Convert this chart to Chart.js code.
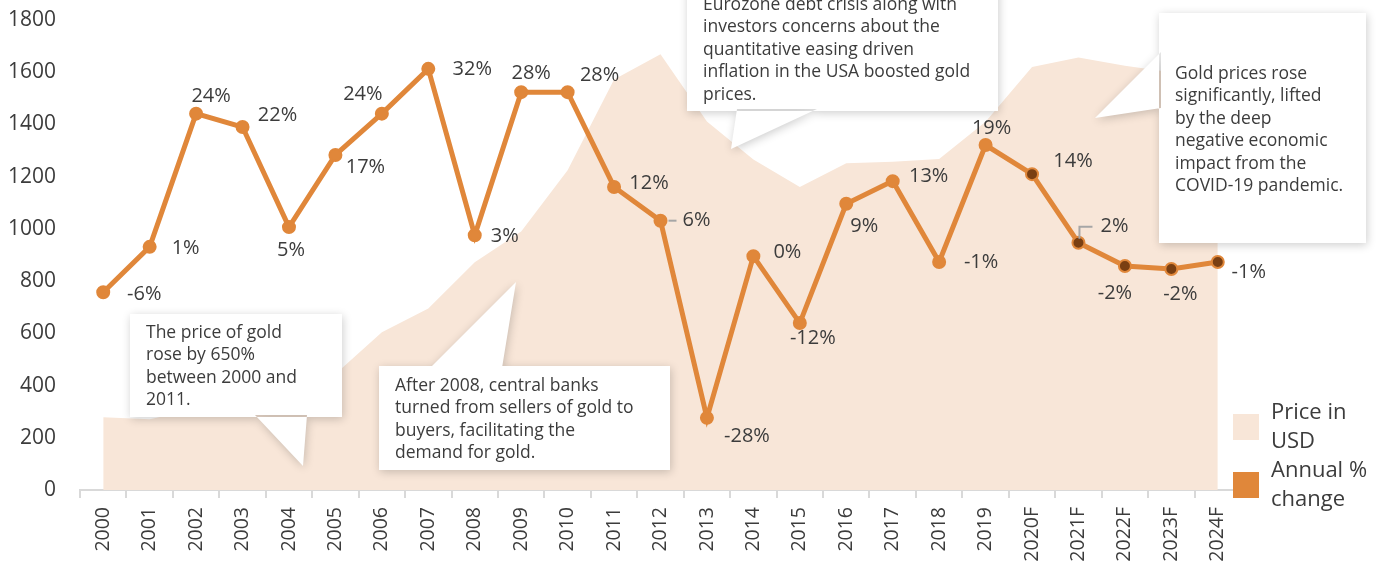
<!DOCTYPE html>
<html>
<head>
<meta charset="utf-8">
<script src="https://cdn.jsdelivr.net/npm/chart.js@4.4.1/dist/chart.umd.min.js"></script>
<style>
  body { margin: 0; background: #fff; }
  #wrap { width: 1382px; height: 570px; }
</style>
</head>
<body>
<div id="wrap"><canvas id="gold-chart" width="1382" height="570"></canvas></div>
<script>
// data
const years = ["2000", "2001", "2002", "2003", "2004", "2005", "2006", "2007", "2008", "2009",
  "2010", "2011", "2012", "2013", "2014", "2015", "2016", "2017", "2018", "2019",
  "2020F", "2021F", "2022F", "2023F", "2024F"];
const priceUsd = [279, 271, 310, 363, 409, 444, 604, 695, 872, 990,
  1225, 1572, 1669, 1411, 1266, 1160, 1251, 1257, 1268, 1410,
  1620, 1656, 1625, 1600, 1580];
const annualChange = [-6.4, 1.4, 24.3, 22.0, 4.8, 17.2, 24.3, 32.0, 3.4, 28.0,
  28.0, 11.7, 5.9, -28.0, -0.2, -11.7, 8.8, 12.7, -1.2, 18.9,
  13.9, 2.1, -1.9, -2.4, -1.2];
const yTicks = { min: 0, max: 1800, step: 200 };

const notes = [
  ["The price of gold", "rose by 650%", "between 2000 and", "2011."],
  ["After 2008, central banks", "turned from sellers of gold to", "buyers, facilitating the", "demand for gold."],
  ["Eurozone debt crisis along with", "investors concerns about the", "quantitative easing driven", "inflation in the USA boosted gold", "prices."],
  ["Gold prices rose", "significantly, lifted", "by the deep", "negative economic", "impact from the", "COVID-19 pandemic."]
];

const ORANGE = "#E0873A";
const BROWN = "#7A3F12";
const PEACH = "#F8E6D8";
const TEXT = "#3C3C3C";
const FONT = "'Open Sans'";

// label placement relative to each point [dx, dy]
const labelOffsets = [[41, 2], [36, 1], [15, -17], [35, -12], [2, 23], [30, 12], [-19, -19], [44, 0], [30, 1], [10, -19],
  [32, -17], [35, -4], [36, 0], [40, 18], [34, -4], [13, 15], [18, 22], [36, -5], [42, 0], [6, -17],
  [41, -13], [36, -16], [-10, 27], [9, 25], [31, 10]];

// callout boxes: [x, y, w, h], pointer triangle, y of first text line
const calloutLayout = [
  { box: [130, 314, 212, 103], tip: [[255, 415], [303, 466], [307, 415]], top: 333 },
  { box: [379, 366, 291, 104], tip: [[430, 368], [516, 282], [502, 368]], top: 386 },
  { box: [687, -40, 311, 151], tip: [[737, 109], [731, 149], [817, 109]], top: 5 },
  { box: [1159, 13, 207, 230], tip: [[1161, 52], [1095, 118], [1161, 108]], top: 74 }
];

const calloutPlugin = {
  id: "callouts",
  afterDatasetDraw(chart, args) {
    if (args.index !== 1) return;
    const ctx = chart.ctx;
    ctx.save();
    calloutLayout.forEach((c, n) => {
      const [x, y, w, h] = c.box;
      ctx.beginPath();
      ctx.rect(x, y, w, h);
      ctx.moveTo(c.tip[0][0], c.tip[0][1]);
      ctx.lineTo(c.tip[1][0], c.tip[1][1]);
      ctx.lineTo(c.tip[2][0], c.tip[2][1]);
      ctx.closePath();
      ctx.shadowColor = "rgba(0,0,0,0.2)";
      ctx.shadowBlur = 10;
      ctx.shadowOffsetX = 1;
      ctx.shadowOffsetY = 2;
      ctx.fillStyle = "#fff";
      ctx.fill();
      ctx.shadowColor = "transparent";
      ctx.fillStyle = TEXT;
      ctx.font = "17.5px " + FONT;
      ctx.textBaseline = "middle";
      ctx.textAlign = "left";
      notes[n].forEach((t, i) => ctx.fillText(t, x + 16, c.top + i * 22.5));
    });
    ctx.restore();
  }
};

const pctLabelPlugin = {
  id: "pctLabels",
  afterDatasetsDraw(chart) {
    const ctx = chart.ctx;
    const pts = chart.getDatasetMeta(0).data;
    ctx.save();
    // leader lines
    ctx.strokeStyle = "#A6A6A6";
    ctx.lineWidth = 2;
    const p12 = pts[12];
    ctx.beginPath();
    ctx.moveTo(p12.x + 8, p12.y);
    ctx.lineTo(p12.x + 16, p12.y);
    ctx.stroke();
    const p21 = pts[21];
    ctx.beginPath();
    ctx.moveTo(p21.x + 1, p21.y - 4);
    ctx.lineTo(p21.x + 1, p21.y - 16);
    ctx.lineTo(p21.x + 14, p21.y - 16);
    ctx.stroke();

    ctx.font = "20px " + FONT;
    ctx.fillStyle = TEXT;
    ctx.textAlign = "center";
    ctx.textBaseline = "middle";
    pts.forEach((pt, i) => {
      const [dx, dy] = labelOffsets[i];
      ctx.fillText(Math.round(annualChange[i]) + "%", pt.x + dx, pt.y + dy);
    });
    ctx.restore();
  }
};

function wrapText(ctx, text, maxW) {
  const words = text.split(" ");
  const lines = [];
  let cur = "";
  words.forEach(w => {
    const test = cur ? cur + " " + w : w;
    if (cur && ctx.measureText(test).width > maxW) {
      lines.push(cur);
      cur = w;
    } else {
      cur = test;
    }
  });
  lines.push(cur);
  return lines;
}

const legendPlugin = {
  id: "sideLegend",
  afterDraw(chart) {
    const ctx = chart.ctx;
    const x = chart.chartArea.right - 8;
    let y = 414;
    ctx.save();
    ctx.font = "22px " + FONT;
    ctx.textBaseline = "middle";
    ctx.textAlign = "left";
    [1, 0].forEach(i => {
      const ds = chart.data.datasets[i];
      ctx.fillStyle = ds.legendColor;
      ctx.fillRect(x, y, 26, 26);
      ctx.fillStyle = TEXT;
      wrapText(ctx, ds.label, 106).forEach((t, k) => ctx.fillText(t, x + 38, y - 1 + k * 28.5));
      y += 58;
    });
    ctx.restore();
  }
};

const ctx = document.getElementById("gold-chart").getContext("2d");
const chart = new Chart(ctx, {
  type: "line",
  data: {
    labels: years,
    datasets: [
      {
        label: "Annual % change",
        data: annualChange,
        yAxisID: "y1",
        borderColor: ORANGE,
        borderWidth: 5,
        pointRadius: 6,
        pointBorderWidth: 2,
        pointBorderColor: ORANGE,
        pointBackgroundColor: years.map(y => y.endsWith("F") ? BROWN : ORANGE),
        tension: 0,
        fill: false,
        legendColor: ORANGE
      },
      {
        label: "Price in USD",
        data: priceUsd,
        yAxisID: "y",
        backgroundColor: PEACH,
        borderColor: PEACH,
        borderWidth: 0,
        pointRadius: 0,
        fill: "origin",
        tension: 0,
        legendColor: PEACH
      }
    ]
  },
  options: {
    responsive: false,
    animation: false,
    layout: { padding: { top: 20, right: 141, left: 0, bottom: 0 } },
    plugins: {
      legend: { display: false },
      tooltip: { enabled: false }
    },
    scales: {
      x: {
        offset: true,
        grid: { offset: true, drawOnChartArea: false, color: "#D9D9D9", lineWidth: 2, tickLength: 8 },
        border: { color: "#D9D9D9", width: 2 },
        ticks: {
          autoSkip: false,
          minRotation: 90,
          maxRotation: 90,
          padding: 9,
          color: TEXT,
          font: { family: "Open Sans", size: 19.5 }
        },
        afterFit: s => { s.height = 80; }
      },
      y: {
        min: yTicks.min,
        max: yTicks.max,
        ticks: {
          stepSize: yTicks.step,
          padding: 0,
          color: TEXT,
          font: { family: "Open Sans", size: 21 },
          callback: v => String(v)
        },
        grid: { display: false, drawTicks: true, tickLength: 24 },
        border: { display: false },
        afterFit: s => { s.width = 80; }
      },
      y1: { display: false, min: -40.4, max: 40.4 }
    }
  },
  plugins: [calloutPlugin, pctLabelPlugin, legendPlugin]
});
</script>
</body>
</html>
